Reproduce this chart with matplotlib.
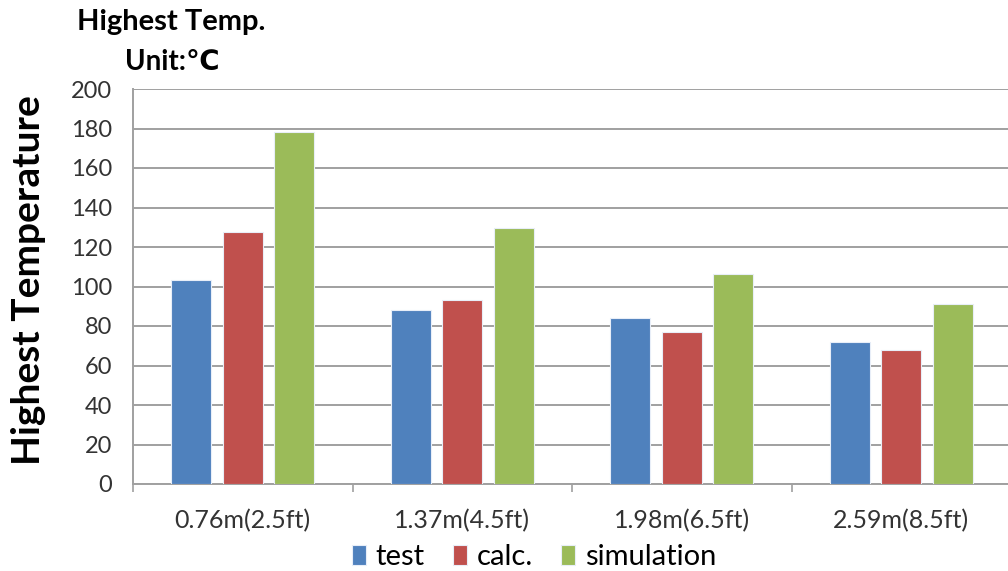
import numpy as np
import matplotlib.pyplot as plt

categories = ['0.76m(2.5ft)', '1.37m(4.5ft)', '1.98m(6.5ft)', '2.59m(8.5ft)']
test = [103.2, 88.1, 84.0, 71.9]
calc = [127.5, 93.1, 77.0, 67.9]
simulation = [178.0, 129.5, 106.1, 91.1]
series_names = ['test', 'calc.', 'simulation']
colors = ['#4F81BD', '#C0504D', '#9BBB59']

plt.rcParams['font.family'] = ['Lato', 'DejaVu Sans']

fig = plt.figure(figsize=(10.08, 5.71), dpi=100)
ax = fig.add_axes([133 / 1008, 87 / 571, 878 / 1008, 395 / 571])

x = np.arange(len(categories))
width = 0.182
pitch = 0.235
for i, (vals, name, c) in enumerate(zip([test, calc, simulation], series_names, colors)):
    ax.bar(x + (i - 1) * pitch, vals, width, color=c, label=name,
           edgecolor='#e8eef8', linewidth=0.8, zorder=3)

ax.set_xlim(-0.5, len(categories) - 0.5)
ax.set_ylim(0, 200)
ax.set_yticks(np.arange(0, 201, 20))
ax.yaxis.grid(True, color='#a0a0a0', linewidth=1.4, zorder=0)
ax.tick_params(axis='y', length=0, labelsize=17, labelcolor='#333333', pad=15)

ax.set_xticks(x)
ax.set_xticklabels(categories, fontsize=18, color='#333333')
ax.set_xticks(np.arange(-0.5, len(categories), 1), minor=True)
ax.tick_params(axis='x', which='major', length=0, pad=18)
ax.tick_params(axis='x', which='minor', length=6, color='#a0a0a0', width=1.2)

for side in ['top', 'right']:
    ax.spines[side].set_visible(False)
for side in ['left', 'bottom']:
    ax.spines[side].set_color('#a0a0a0')
    ax.spines[side].set_linewidth(1.4)

# y label placed by hand, centred on the plot area
fig.text(29 / 1008, 1 - 280 / 571, 'Highest Temperature', rotation=90,
         ha='center', va='center', fontsize=28, fontweight='bold')

fig.text(171 / 1008, 1 - 22 / 571, 'Highest Temp.', ha='center', va='center',
         fontsize=21, fontweight='bold')
fig.text(172 / 1008, 1 - 62 / 571, 'Unit:℃', ha='center', va='center',
         fontsize=20, fontweight='bold')

ax.legend(loc='center', bbox_to_anchor=(534 / 1008, 1 - 557 / 571),
          bbox_transform=fig.transFigure, ncol=3, frameon=False, fontsize=21,
          handlelength=0.48, handleheight=0.7, handletextpad=0.35, columnspacing=0.95)

fig.savefig('out.png', dpi=100)
